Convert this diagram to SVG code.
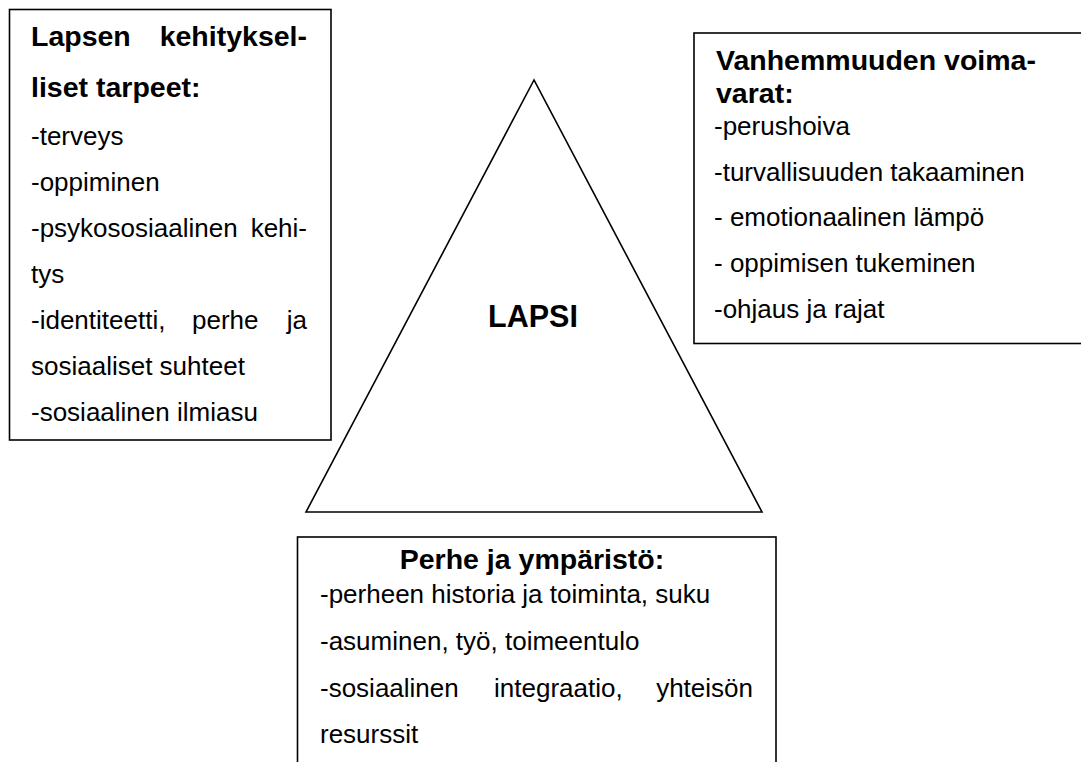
<svg xmlns="http://www.w3.org/2000/svg" width="1081" height="762" viewBox="0 0 1081 762">
<style>
.box{fill:#fff;stroke:#000;stroke-width:1.6}
.t{font-family:"Liberation Sans",Arial,sans-serif;font-size:26px;fill:#000}
.h{font-family:"Liberation Sans",Arial,sans-serif;font-size:28.5px;font-weight:bold;fill:#000}
.c{font-family:"Liberation Sans",Arial,sans-serif;font-size:30.5px;font-weight:bold;fill:#000}
</style>
<rect width="1081" height="762" fill="#fff"/>
<g id="lapsi">
<polygon points="534,80 306,512 762,512" fill="none" stroke="#000" stroke-width="1.6"/>
<text class="c" x="533" y="327" text-anchor="middle">LAPSI</text>
</g>
<g id="lapsen-tarpeet">
<rect class="box" x="9.5" y="9.5" width="321.5" height="430.5"/>
<text class="h" x="31" y="46">Lapsen</text>
<text class="h" x="307" y="46" text-anchor="end">kehityksel-</text>
<text class="h" x="31" y="97">liset tarpeet:</text>
<text class="t" x="31" y="145">-terveys</text>
<text class="t" x="31" y="191">-oppiminen</text>
<text class="t" x="31" y="237">-psykososiaalinen</text>
<text class="t" x="307" y="237" text-anchor="end">kehi-</text>
<text class="t" x="31" y="283">tys</text>
<text class="t" x="31" y="329">-identiteetti,</text>
<text class="t" x="192" y="329">perhe</text>
<text class="t" x="307" y="329" text-anchor="end">ja</text>
<text class="t" x="31" y="375">sosiaaliset suhteet</text>
<text class="t" x="31" y="421">-sosiaalinen ilmiasu</text>
</g>
<g id="vanhemmuus">
<rect class="box" x="694" y="33" width="400" height="310.5"/>
<text class="h" x="716" y="70">Vanhemmuuden voima-</text>
<text class="h" x="716" y="103">varat:</text>
<text class="t" x="714" y="135">-perushoiva</text>
<text class="t" x="714" y="181">-turvallisuuden takaaminen</text>
<text class="t" x="714" y="226">- emotionaalinen lämpö</text>
<text class="t" x="714" y="272">- oppimisen tukeminen</text>
<text class="t" x="714" y="318">-ohjaus ja rajat</text>
</g>
<g id="perhe">
<rect class="box" x="297.5" y="537" width="478.5" height="240"/>
<text class="h" x="532" y="569" text-anchor="middle">Perhe ja ympäristö:</text>
<text class="t" x="320" y="603">-perheen historia ja toiminta, suku</text>
<text class="t" x="320" y="650">-asuminen, työ, toimeentulo</text>
<text class="t" x="320" y="697">-sosiaalinen</text>
<text class="t" x="494" y="697">integraatio,</text>
<text class="t" x="753" y="697" text-anchor="end">yhteisön</text>
<text class="t" x="320" y="743">resurssit</text>
</g>
<g id="connectors"></g>
</svg>
